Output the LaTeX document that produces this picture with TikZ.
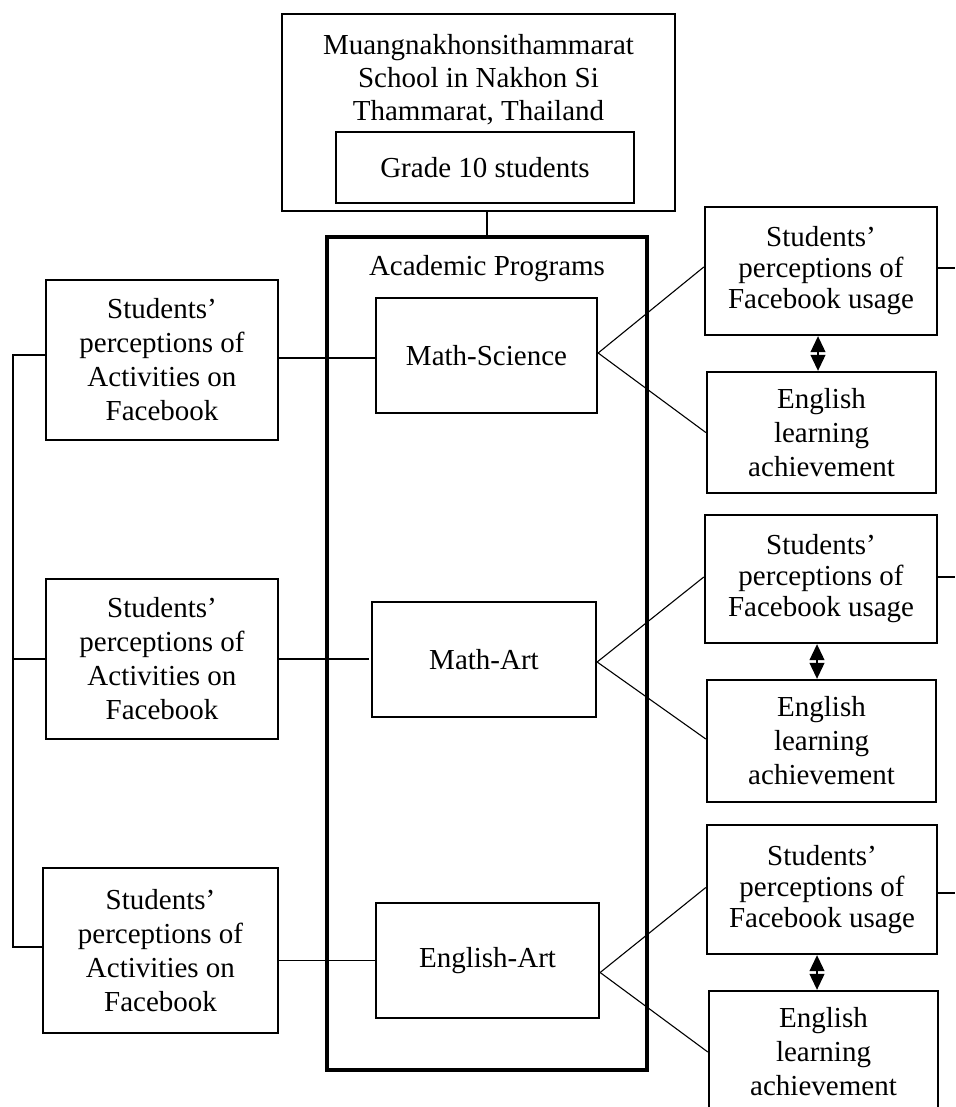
\documentclass[tikz,border=0pt]{standalone}
\usepackage{fontspec}
\setmainfont{Liberation Serif}
\usetikzlibrary{arrows.meta}
\begin{document}
\begin{tikzpicture}[x=0.5pt,y=-0.5pt,
  every node/.style={font=\fontsize{14.5pt}{17pt}\selectfont},
  box/.style={draw, line width=1.15pt, inner sep=0pt, align=center},
  leftbox/.style={box, minimum width=116pt, minimum height=80pt, font=\fontsize{14.5pt}{17pt}\selectfont},
  rightbox/.style={box, line width=1.2pt, font=\fontsize{14.5pt}{15.5pt}\selectfont},
  progbox/.style={box, minimum height=57.5pt},
  conn/.style={line width=0.55pt},
  dbl/.style={line width=0.55pt, {Triangle[width=7.5pt,length=8pt]}-{Triangle[width=7.5pt,length=8pt]}}
]
\useasboundingbox (0,0) rectangle (955,1107);
\clip (0,0) rectangle (955,1107);

% top
\node[box, line width=1pt, minimum width=196.5pt, minimum height=98.5pt] (school) at (478.5,112.5) {};
\node[align=center, inner sep=0pt, font=\fontsize{14.5pt}{16.5pt}\selectfont] (schooltxt) at (478.5,80) {Muangnakhonsithammarat\\School in Nakhon Si\\Thammarat, Thailand};
\node[box, line width=1pt, minimum width=149pt, minimum height=35.5pt] (grade) at (485,167.5) {Grade 10 students};

% big box
\node[box, line width=1.7pt, minimum width=160pt, minimum height=416.5pt] (big) at (487,653.5) {};
\node[inner sep=0pt] (acad) at (487,269) {Academic Programs};
\draw[conn] (big.north) -- (big.north |- school.south);

% programs
\node[progbox, minimum width=110.5pt] (ms) at (486.5,355.5) {Math-Science};
\node[progbox, minimum width=112pt] (ma) at (484,659.5) {Math-Art};
\node[progbox, minimum width=111.5pt] (ea) at (487.5,960.5) {English-Art};

% left boxes
\node[leftbox] (left1) at (162,360) {Students’\\perceptions of\\Activities on\\Facebook};
\node[leftbox] (left2) at (162,659) {Students’\\perceptions of\\Activities on\\Facebook};
\node[leftbox, minimum width=117.5pt, minimum height=82.5pt] (left3) at (160.5,950.5) {Students’\\perceptions of\\Activities on\\Facebook};

% right boxes
\node[rightbox, minimum width=116pt, minimum height=64pt] (u1) at (821,271) {Students’\\perceptions of\\Facebook usage};
\node[rightbox, minimum width=114.5pt, minimum height=60.5pt, font=\fontsize{14.5pt}{17pt}\selectfont] (a1) at (821.5,432.5) {English\\learning\\achievement};
\node[rightbox, minimum width=116pt, minimum height=64pt] (u2) at (821,579) {Students’\\perceptions of\\Facebook usage};
\node[rightbox, minimum width=114.5pt, minimum height=61pt, font=\fontsize{14.5pt}{17pt}\selectfont] (a2) at (821.5,741) {English\\learning\\achievement};
\node[rightbox, minimum width=115pt, minimum height=64.5pt] (u3) at (822,889.5) {Students’\\perceptions of\\Facebook usage};
\node[rightbox, minimum width=114.5pt, minimum height=61pt, font=\fontsize{14.5pt}{17pt}\selectfont] (a3) at (823.5,1052) {English\\learning\\achievement};

% coordinates
\coordinate (edge) at (955,0);
\coordinate (br) at (13,0);

% left connectors
\draw[conn] ([yshift=1pt]left1.east) -- ([yshift=1pt]left1.east -| ms.west);
\draw[conn] (left2.east) -- ([xshift=-1pt]left2.east -| ma.west);
\draw[conn] (ea.west) -- (ea.west -| left3.east);

% bracket
\draw[conn] ([yshift=2.5pt]left1.west) -- ([yshift=2.5pt]left1.west -| br) |- ([yshift=1.75pt]left3.west);
\draw[conn] (left2.west) -- (left2.west -| br);

% fan lines
\draw[conn] ([yshift=1.25pt]ms.east) -- ([yshift=2pt]u1.west);
\draw[conn] ([yshift=1.25pt]ms.east) -- (a1.west);
\draw[conn] ([yshift=-1.25pt]ma.east) -- ([yshift=1pt]u2.west);
\draw[conn] ([yshift=-1.25pt]ma.east) -- ([yshift=1pt]a2.west);
\draw[conn] ([yshift=-6pt]ea.east) -- ([yshift=1pt]u3.west);
\draw[conn] ([yshift=-6pt]ea.east) -- (a3.west);

% right exits
\draw[conn] ([yshift=1.5pt]u1.east) -- ([yshift=1.5pt]u1.east -| edge);
\draw[conn] ([yshift=1pt]u2.east) -- ([yshift=1pt]u2.east -| edge);
\draw[conn] ([yshift=-1.75pt]u3.east) -- ([yshift=-1.75pt]u3.east -| edge);

% double arrows
\draw[dbl] ([xshift=-1.5pt]u1.south) -- ([xshift=-1.5pt]u1.south |- a1.north);
\draw[dbl] ([xshift=-2pt]u2.south) -- ([xshift=-2pt]u2.south |- a2.north);
\draw[dbl] ([xshift=-2.5pt]u3.south) -- ([xshift=-2.5pt]u3.south |- a3.north);
\end{tikzpicture}
\end{document}
